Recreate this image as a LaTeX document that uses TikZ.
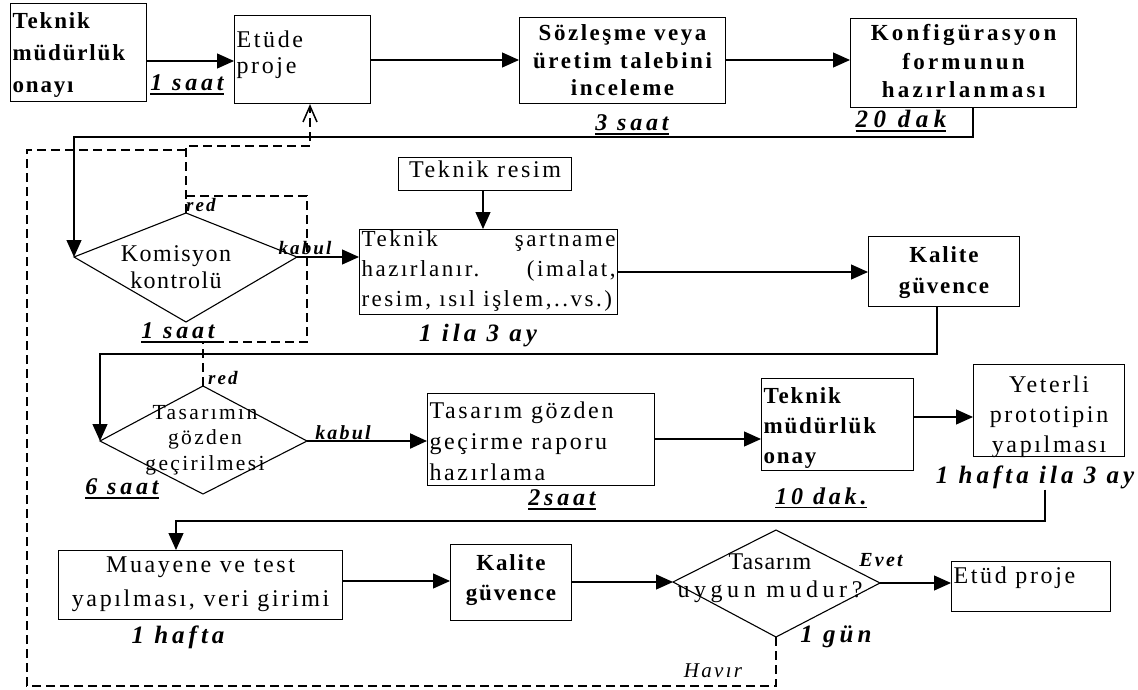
\documentclass[tikz,border=0pt]{standalone}
\usepackage{fontspec}
\setmainfont{Liberation Serif}[LetterSpace=11]
\newfontfamily\lsfour{Liberation Serif}[LetterSpace=4]
\newfontfamily\lssix{Liberation Serif}[LetterSpace=6]
\newfontfamily\lssixteen{Liberation Serif}[LetterSpace=16]
\newfontfamily\lsnineteen{Liberation Serif}[LetterSpace=19]
\newfontfamily\lstwentytwo{Liberation Serif}[LetterSpace=22]
\newfontfamily\bfeight{Liberation Serif Bold}[LetterSpace=8]
\newfontfamily\bfeleven{Liberation Serif Bold}[LetterSpace=11]
\newfontfamily\bffourteen{Liberation Serif Bold}[LetterSpace=14]
\usetikzlibrary{arrows.meta}
\newcommand{\fsz}[2]{\fontsize{#1}{#2}\selectfont}
% text block of a box: height, width, alignment, top gap, lines
\newcommand{\inbox}[5]{\parbox[c][#1pt][t]{#2pt}{#3\vspace*{#4pt}#5}}
\newsavebox{\ulinebox}
\newcommand{\durline}[1]{\sbox{\ulinebox}{#1}\rlap{\usebox{\ulinebox}}\rule[-4pt]{\wd\ulinebox}{1.8pt}}
\begin{document}
\begin{tikzpicture}[x=1pt,y=-1pt,
  box/.style={draw, line width=1.1pt, anchor=north west, inner xsep=2pt, inner ysep=0pt},
  ln/.style={line width=1.2pt},
  arr/.style={ln, -{Triangle[length=17pt,width=15pt]}},
  dsh/.style={line width=1.5pt, dash pattern=on 9pt off 5pt},
  shp/.style={line width=1.1pt},
  lbl/.style={font=\lssixteen\bfseries\itshape\fsz{24}{26}, inner sep=1pt},
  lblb/.style={font=\lssixteen\bfseries\itshape\fsz{25}{27}, inner sep=1pt},
  tag/.style={font=\bfseries\itshape\fsz{19}{21}, inner sep=1pt}]
\useasboundingbox (0,0) rectangle (1138,690);

% process boxes
\node[box, font=\bfeight\fsz{23}{32}] (tmo) at (10,3)
  {\inbox{98}{132}{\raggedright}{9}{Teknik\\müdürlük\\onayı}};
\node[box, font=\fsz{24}{26}] (etude) at (234,15)
  {\inbox{88}{132}{\raggedright}{15}{Etüde\\proje}};
\node[box, font=\bfeleven\fsz{23}{27.5}] (soz) at (519,17)
  {\inbox{86}{202}{\centering}{7}{Sözleşme veya\\üretim talebini\\inceleme}};
\node[box, font=\bffourteen\fsz{23}{28.5}] (konf) at (850,18)
  {\inbox{89}{222}{\centering}{6}{Konfigürasyon\\formunun\\hazırlanması}};
\node[box, font=\fsz{24}{26}] (tres) at (398,157)
  {\inbox{33}{169}{\centering}{3}{Teknik resim}};
\node[box, font=\fsz{23}{30}] (spec) at (359,229)
  {\inbox{85}{254}{\raggedright}{0.5}{Teknik\hfill şartname\\hazırlanır.\hfill (imalat,\\\mbox{resim, ısıl işlem,..vs.)}}};
\node[box, font=\bfeight\fsz{23}{31}] (kal1) at (868,236)
  {\inbox{70}{147}{\centering}{10}{Kalite\\güvence}};
\node[box, font=\fsz{24}{31}] (tgr) at (427,393)
  {\inbox{92}{223}{\raggedright}{8.5}{Tasarım gözden\\geçirme raporu\\hazırlama}};
\node[box, font=\bfeight\fsz{23}{30}] (tmo2) at (761,378)
  {\inbox{92}{148}{\raggedright}{9}{Teknik\\müdürlük\\onay}};
\node[box, font=\fsz{24}{30}] (yet) at (973,364)
  {\inbox{92}{147}{\centering}{11.5}{Yeterli\\prototipin\\yapılması}};
\node[box, font=\fsz{24}{34}] (mua) at (58,550)
  {\inbox{69}{280}{\centering}{6.5}{Muayene ve test\\yapılması, veri girimi}};
\node[box, font=\bfeight\fsz{23}{30}] (kal2) at (450,544)
  {\inbox{76}{117}{\centering}{10}{Kalite\\güvence}};
\node[box, font=\fsz{24}{26}] (etud) at (951,561)
  {\inbox{50}{155}{\raggedright}{5.5}{Etüd proje}};

% decision diamonds
\coordinate (d1l) at (74,257);  \coordinate (d1t) at (186,213);
\coordinate (d1r) at (297,257); \coordinate (d1b) at (186,322);
\coordinate (d2l) at (100,441); \coordinate (d2t) at (203,386);
\coordinate (d2r) at (307,441); \coordinate (d2b) at (203,494);
\coordinate (d3l) at (673,582); \coordinate (d3t) at (776,530);
\coordinate (d3r) at (880,583); \coordinate (d3b) at (776,637);
\draw[shp] (d1l) -- (d1t) -- (d1r) -- (d1b) -- cycle;
\draw[shp] (d2l) -- (d2t) -- (d2r) -- (d2b) -- cycle;
\draw[shp] (d3l) -- (d3t) -- (d3r) -- (d3b) -- cycle;
\node[font=\lssix\fsz{24}{27}, align=center] (d1txt) at (176,267) {Komisyon\\kontrolü};
\node[font=\fsz{21.5}{25.5}, align=center] (d2txt) at (205,440) {Tasarımın\\gözden\\geçirilmesi};
\node[font=\fsz{24}{28}, align=center] (d3txt) at (770,578) {{\lsfour Tasarım}\\{\lsnineteen uygun mudur?}};

% time labels and branch tags
\node[lbl] (t1) at (187,85) {\durline{1 saat}};
\node[lbl] (t2) at (632,125) {\durline{3 saat}};
\node[lbl, font=\lstwentytwo\bfseries\itshape\fsz{25}{27}] (t3) at (901,121) {\durline{20 dak}};
\node[tag] (red1) at (201,205) {red};
\node[tag] (kab1) at (305,248) {kabul};
\node[lbl] (t4) at (178,333) {\durline{1 saat}};
\node[lblb] (t5) at (478,336) {1 ila 3 ay};
\node[tag] (red2) at (223,378) {red};
\node[tag, font=\bfseries\itshape\fsz{20}{22}] (kab2) at (343,433) {kabul};
\node[lbl] (t6) at (122,489) {\durline{6 saat}};
\node[lbl] (t7) at (562,500) {\durline{2saat}};
\node[lbl] (t8) at (821,498) {\durline{10 dak.}};
\node[lblb] (t9) at (1035,477) {1 hafta ila 3 ay};
\node[lblb] (t10) at (178,637) {1 hafta};
\node[tag, font=\bfseries\itshape\fsz{20}{22}] (evet) at (881,560) {Evet};
\node[lblb] (t11) at (836,637) {1 gün};
\node[tag, font=\itshape\fsz{21}{23}] (havir) at (713,671) {Havır};

% bend points of the connectors
\coordinate (c1) at (74,137);
\coordinate (c2) at (100,354);
\coordinate (c3) at (176,521);

% solid connectors
\draw[arr] (tmo.east |- 0,61) -- (etude.west |- 0,61);
\draw[arr] (etude.east |- 0,60) -- (soz.west |- 0,60);
\draw[arr] (soz.east |- 0,60) -- (konf.west |- 0,60);
\draw[arr] (konf.south -| 973,0) |- (c1) -- (d1l);
\draw[arr] (tres.south -| 483,0) -- (spec.north -| 483,0);
\draw[arr] (d1r) -- (spec.west |- d1r);
\draw[arr] (spec.east |- 0,272) -- (kal1.west |- 0,272);
\draw[arr] (kal1.south -| 937,0) |- (c2) -- (d2l);
\draw[arr, line width=2.2pt] (d2r) -- (tgr.west |- d2r);
\draw[arr] (tgr.east |- 0,439) -- (tmo2.west |- 0,439);
\draw[arr] (tmo2.east |- 0,417) -- (yet.west |- 0,417);
\draw[arr] (t9.south -| 1045,0) |- (c3) -- (mua.north -| c3);
\draw[arr] (mua.east |- 0,581) -- (kal2.west |- 0,581);
\draw[arr] (kal2.east |- d3l) -- (d3l);
\draw[arr] (d3r) -- (etud.west |- d3r);

% dashed return paths
\draw[dsh, -{Straight Barb[length=16pt,width=14pt,line width=1.5pt]}] (d1t) -- (186,146) -| (etude.south -| 310,0);
\draw[dsh] (d2t) -- (203,342) -| (307,196) -- (186,196);
\draw[dsh] (d3b) -- (776,686) -| (27,150) -- (186,150);
\end{tikzpicture}
\end{document}
